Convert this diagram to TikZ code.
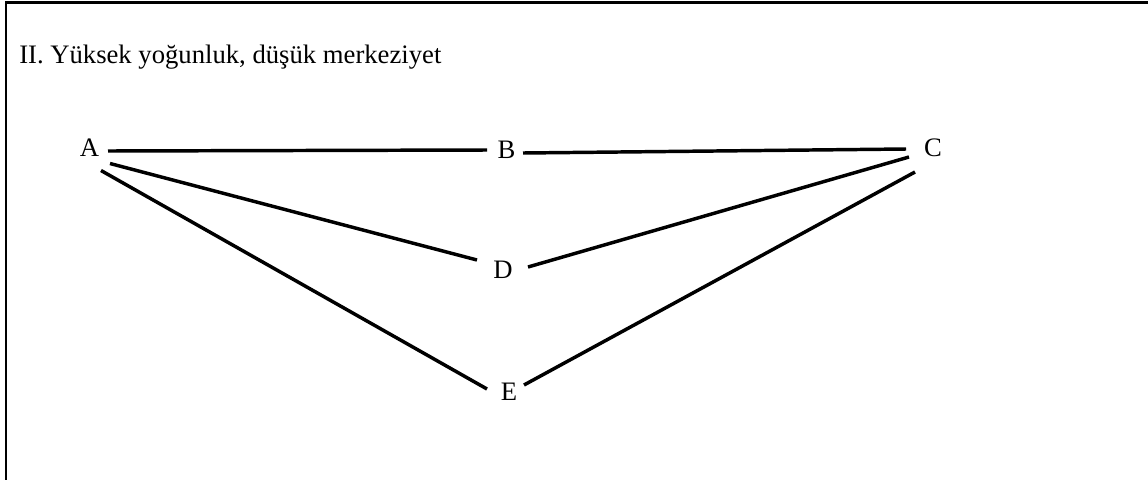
\documentclass[tikz,border=0pt]{standalone}
\usepackage{fontspec}
\setmainfont{Liberation Serif}
\begin{document}
\begin{tikzpicture}[x=0.75pt,y=-0.75pt,
  lbl/.style={inner sep=0pt,font=\fontsize{20}{24}\selectfont},
  edge/.style={line width=2.6pt},
  frame/.style={line width=1.6pt}]
\useasboundingbox (0,0) rectangle (1148,479);
\draw[frame] (6,480) -- (6,2.5) -- (1149,2.5);
\node[lbl,anchor=base west] (title) at (19,63) {II. Yüksek yoğunluk, düşük merkeziyet};
\node[lbl] (A) at (89.5,148) {A};
\node[lbl] (B) at (506.5,150) {B};
\node[lbl] (C) at (933,148) {C};
\node[lbl] (D) at (503,270) {D};
\node[lbl] (E) at (509,392) {E};
\draw[edge] ([shift={(18.5,3)}]A.center) -- ([shift={(-19.5,0)}]B.center);
\draw[edge] ([shift={(16.5,3)}]B.center) -- ([shift={(-27,1)}]C.center);
\draw[edge] ([shift={(20.5,15.5)}]A.center) -- ([shift={(-26,-10)}]D.center);
\draw[edge] ([shift={(25,-3)}]D.center) -- ([shift={(-24,9)}]C.center);
\draw[edge] ([shift={(11.5,22.5)}]A.center) -- ([shift={(-22,-3)}]E.center);
\draw[edge] ([shift={(15,-7)}]E.center) -- ([shift={(-18,24)}]C.center);
\end{tikzpicture}
\end{document}
